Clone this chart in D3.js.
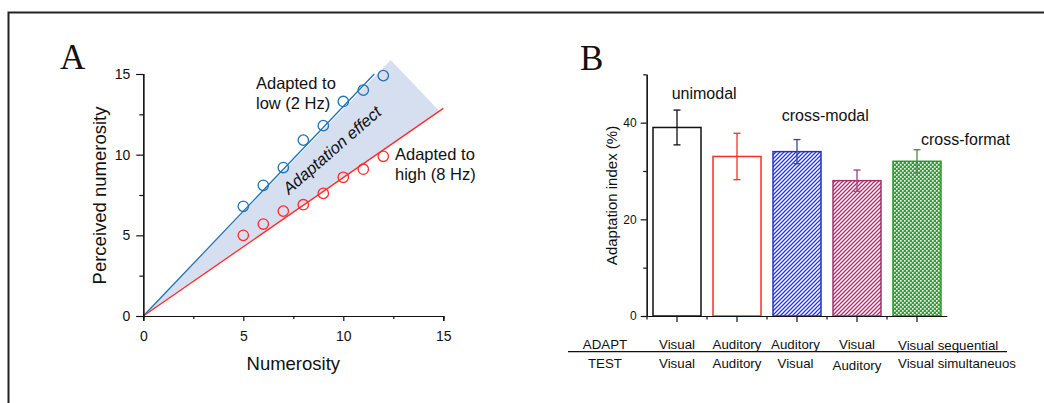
<!DOCTYPE html>
<html><head><meta charset="utf-8">
<script src="https://cdn.jsdelivr.net/npm/d3@7"></script>
<style>
body{margin:0;background:#fff;}
text{font-family:Arial,"Liberation Sans",sans-serif;fill:#111;}
text.panel{font-family:"Liberation Serif","Times New Roman",serif;}
</style></head>
<body>
<svg id="chart" width="1044" height="403"></svg>
<script>
// ---------- Panel A data ----------
const numerosity = [5,6,7,8,9,10,11,12];
const lowValues  = [6.8,8.1,9.2,10.9,11.8,13.3,14.0,14.9];
const highValues = [5.0,5.7,6.5,6.9,7.6,8.6,9.1,9.9];
const lowFit  = [[0,0],[11.55,15]];
const highFit = [[0,0],[15,12.87]];
const shadeRegion = [[0,0],[12.37,15.87],[14.8,12.7]];
const axisATicks = [0,5,10,15];
const axisAMinor = [2.5,7.5,12.5];

// ---------- Panel B data ----------
const conditions  = ["VV","AA","AV","VA","SeqSim"];
const adaptIndex  = [39,33,34,28,32];
const adaptErr    = [3.6,4.8,2.5,2.2,2.4];
const adaptRow    = ["Visual","Auditory","Auditory","Visual","Visual sequential"];
const testRow     = ["Visual","Auditory","Visual","Auditory","Visual simultaneuos"];
const groupLabels = ["unimodal","cross-modal","cross-format"];
const axisBTicks  = [0,20,40];
const axisBMinor  = [10,30,50];

const svg = d3.select("#chart");

// frame
svg.append("path").attr("d","M8.5,403 V12.5 H1044")
  .attr("fill","none").attr("stroke","#222").attr("stroke-width",2);

// ================= Panel A =================
const xA = d3.scaleLinear().domain([0,15]).range([143.3,443.3]);
const yA = d3.scaleLinear().domain([0,15]).range([316,74]);
const gA = svg.append("g");

gA.append("polygon")
  .attr("points", shadeRegion.map(d=>[xA(d[0]),yA(d[1])].join(",")).join(" "))
  .attr("fill","#d5dff0");

const line = d3.line().x(d=>xA(d[0])).y(d=>yA(d[1]));
gA.append("path").attr("d",line(lowFit)).attr("stroke","#1f72b8").attr("stroke-width",1.3).attr("fill","none");
gA.append("path").attr("d",line(highFit)).attr("stroke","#ff2a2a").attr("stroke-width",1.3).attr("fill","none");

function styleAxis(g, fs){
  g.selectAll("path.domain").attr("stroke","#111").attr("stroke-width",1.2);
  g.selectAll(".tick line").attr("stroke","#111").attr("stroke-width",1.2);
  g.selectAll("text").style("font-size",fs).attr("fill","#111");
}
const xAxisA = gA.append("g").attr("transform","translate(0,316)")
  .call(d3.axisBottom(xA).tickValues(axisATicks).tickSize(5).tickPadding(10).tickFormat(d3.format("d")));
styleAxis(xAxisA,"14px");
const xAxisAm = gA.append("g").attr("transform","translate(0,316)")
  .call(d3.axisBottom(xA).tickValues(axisAMinor).tickSize(3).tickFormat(""));
styleAxis(xAxisAm,"14px");
const yAxisA = gA.append("g").attr("transform","translate(143.3,0)")
  .call(d3.axisLeft(yA).tickValues(axisATicks).tickSize(7).tickPadding(6).tickFormat(d3.format("d")));
styleAxis(yAxisA,"14px");
const yAxisAm = gA.append("g").attr("transform","translate(143.3,0)")
  .call(d3.axisLeft(yA).tickValues(axisAMinor).tickSize(4).tickFormat(""));
styleAxis(yAxisAm,"14px");

gA.selectAll("circle.low").data(numerosity).join("circle").attr("class","low")
  .attr("cx",d=>xA(d)).attr("cy",(d,i)=>yA(lowValues[i])).attr("r",5.2)
  .attr("fill","none").attr("stroke","#1f72b8").attr("stroke-width",1.3);
gA.selectAll("circle.high").data(numerosity).join("circle").attr("class","high")
  .attr("cx",d=>xA(d)).attr("cy",(d,i)=>yA(highValues[i])).attr("r",5.2)
  .attr("fill","none").attr("stroke","#ff2a2a").attr("stroke-width",1.3);

gA.append("text").attr("class","panel").attr("x",60).attr("y",69).text("A")
  .style("font-size","35px");
gA.append("text").attr("x",xA(7.5)).attr("y",370).attr("text-anchor","middle")
  .style("font-size","18.5px").text("Numerosity");
gA.append("text").attr("transform","translate(106,195.5) rotate(-90)").attr("text-anchor","middle")
  .style("font-size","18.5px").text("Perceived numerosity");
gA.append("text").attr("x",256).attr("y",89).style("font-size","16.5px").text("Adapted to");
gA.append("text").attr("x",256).attr("y",109).style("font-size","16.5px").text("low (2 Hz)");
gA.append("text").attr("x",395).attr("y",159.5).style("font-size","16.5px").text("Adapted to");
gA.append("text").attr("x",395).attr("y",179.5).style("font-size","16.5px").text("high (8 Hz)");
gA.append("text").attr("transform","translate(289,195) rotate(-41)")
  .style("font-size","16.5px").style("font-style","italic").text("Adaptation effect");

// ================= Panel B =================
const defs = svg.append("defs");
function hatch(id,color){
  const p = defs.append("pattern").attr("id",id).attr("patternUnits","userSpaceOnUse")
    .attr("width",4).attr("height",4);
  p.append("rect").attr("width",4).attr("height",4).attr("fill","#fff");
  p.append("path").attr("d","M-1,1 l2,-2 M0,4 l4,-4 M3,5 l2,-2")
    .attr("stroke",color).attr("stroke-width",1.3);
}
hatch("hatchBlue","#2a3bc8");
hatch("hatchMaroon","#a8306c");
const chk = defs.append("pattern").attr("id","checkGreen").attr("patternUnits","userSpaceOnUse")
  .attr("width",4).attr("height",4);
chk.append("rect").attr("width",4).attr("height",4).attr("fill","#2ea42e");
chk.append("rect").attr("x",0).attr("y",0).attr("width",1.6).attr("height",1.6).attr("fill","#fff");
chk.append("rect").attr("x",2).attr("y",2).attr("width",1.6).attr("height",1.6).attr("fill","#fff");

const barStroke = ["#111","#ff2a2a","#2233c4","#a8306c","#1f9e1f"];
const barFill   = ["#fff","#fff","url(#hatchBlue)","url(#hatchMaroon)","url(#checkGreen)"];
const errColor  = ["#111","#ff2a2a","#35459c","#9a4476","#3f8f3f"];

const xB = d3.scaleBand().domain(conditions).range([647,947]).paddingInner(0.2).paddingOuter(0.1);
const yB = d3.scaleLinear().domain([0,50]).range([316,74.3]);
const gB = svg.append("g");

gB.selectAll("rect.bar").data(conditions).join("rect").attr("class","bar")
  .attr("x",d=>xB(d)).attr("width",xB.bandwidth())
  .attr("y",(d,i)=>yB(adaptIndex[i])).attr("height",(d,i)=>yB(0)-yB(adaptIndex[i]))
  .attr("fill",(d,i)=>barFill[i]).attr("stroke",(d,i)=>barStroke[i]).attr("stroke-width",1.5);

const eg = gB.selectAll("g.err").data(conditions).join("g").attr("class","err")
  .attr("stroke",(d,i)=>errColor[i]).attr("stroke-width",1.3);
eg.append("line").attr("x1",d=>xB(d)+xB.bandwidth()/2).attr("x2",d=>xB(d)+xB.bandwidth()/2)
  .attr("y1",(d,i)=>yB(adaptIndex[i]+adaptErr[i])).attr("y2",(d,i)=>yB(adaptIndex[i]-adaptErr[i]));
eg.append("line").attr("x1",d=>xB(d)+xB.bandwidth()/2-3.5).attr("x2",d=>xB(d)+xB.bandwidth()/2+3.5)
  .attr("y1",(d,i)=>yB(adaptIndex[i]+adaptErr[i])).attr("y2",(d,i)=>yB(adaptIndex[i]+adaptErr[i]));
eg.append("line").attr("x1",d=>xB(d)+xB.bandwidth()/2-3.5).attr("x2",d=>xB(d)+xB.bandwidth()/2+3.5)
  .attr("y1",(d,i)=>yB(adaptIndex[i]-adaptErr[i])).attr("y2",(d,i)=>yB(adaptIndex[i]-adaptErr[i]));

// axes B
const yAxisB = gB.append("g").attr("transform","translate(646.7,0)")
  .call(d3.axisLeft(yB).tickValues(axisBTicks).tickSize(6).tickPadding(4).tickSizeOuter(0).tickFormat(d3.format("d")));
styleAxis(yAxisB,"12px");
const yAxisBm = gB.append("g").attr("transform","translate(646.7,0)")
  .call(d3.axisLeft(yB).tickValues(axisBMinor).tickSize(3.5).tickSizeOuter(0).tickFormat(""));
styleAxis(yAxisBm,"12px");
const xAxisB = gB.append("g").attr("transform","translate(0,316)")
  .call(d3.axisBottom(xB).tickSize(6).tickSizeOuter(0).tickFormat(""));
styleAxis(xAxisB,"12px");
xAxisB.select("path.domain").attr("d","M646.7,0.5H947.3");
// band boundary ticks
gB.selectAll("line.bt").data(conditions).join("line").attr("class","bt")
  .attr("x1",d=>xB(d)-xB.step()*xB.paddingInner()/2).attr("x2",d=>xB(d)-xB.step()*xB.paddingInner()/2)
  .attr("y1",316).attr("y2",319.5).attr("stroke","#111").attr("stroke-width",1.2);

gB.append("text").attr("class","panel").attr("x",580).attr("y",70).text("B")
  .style("font-size","35px");
gB.append("text").attr("transform","translate(616.7,195.5) rotate(-90)").attr("text-anchor","middle")
  .style("font-size","15px").text("Adaptation index (%)");

const groupPos = [[671.7,99],[781.7,121],[921,145]];
gB.selectAll("text.grp").data(groupLabels).join("text").attr("class","grp")
  .attr("x",(d,i)=>groupPos[i][0]).attr("y",(d,i)=>groupPos[i][1])
  .style("font-size","16px").text(d=>d);

// table
gB.append("line").attr("x1",568).attr("x2",1007).attr("y1",351.7).attr("y2",351.7)
  .attr("stroke","#111").attr("stroke-width",1.2);
gB.append("text").attr("x",605).attr("y",348.5).attr("text-anchor","middle").style("font-size","13.3px").text("ADAPT");
gB.append("text").attr("x",605).attr("y",367.5).attr("text-anchor","middle").style("font-size","13.3px").text("TEST");
const anchorFor = i => i===4 ? "start" : "middle";
const xFor = (d,i) => i===4 ? xB(conditions[i])+5 : xB(conditions[i])+xB.bandwidth()/2 - (i===2?1.5:0);
gB.selectAll("text.ad").data(adaptRow).join("text").attr("class","ad")
  .attr("x",xFor).attr("y",(d,i)=>i===4?350:348.5).attr("text-anchor",(d,i)=>anchorFor(i))
  .style("font-size","13.3px").text(d=>d);
gB.selectAll("text.te").data(testRow).join("text").attr("class","te")
  .attr("x",xFor).attr("y",(d,i)=>i===3?369.5:367.5).attr("text-anchor",(d,i)=>anchorFor(i))
  .style("font-size","13.3px").text(d=>d);
</script>
</body></html>
